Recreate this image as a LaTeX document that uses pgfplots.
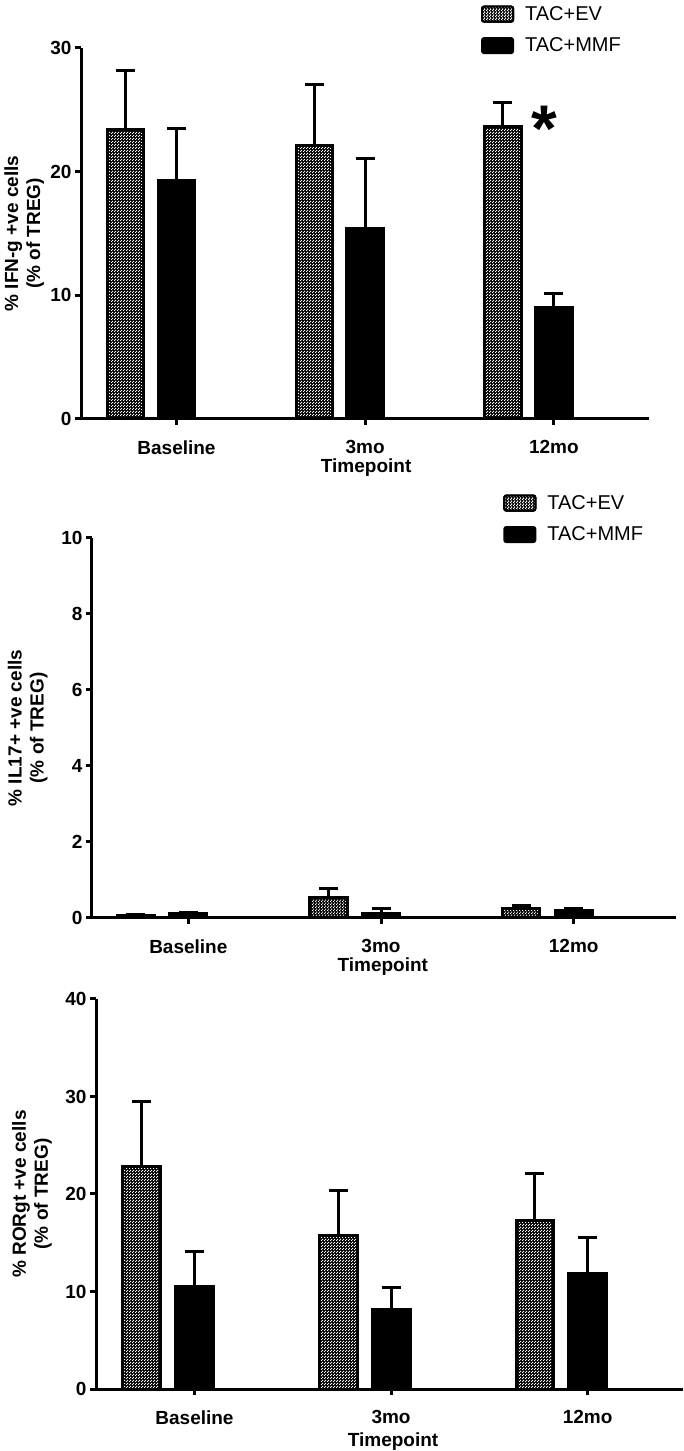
\documentclass[border=0pt]{standalone}
\usepackage{pgfplots}
\pgfplotsset{compat=1.18}
\usepackage{fontspec}
\setmainfont{Liberation Sans}
\usetikzlibrary{patterns}
\pgfdeclarepatternformonly{wdots}{\pgfpointorigin}{\pgfqpoint{3pt}{3pt}}{\pgfqpoint{3pt}{3pt}}{%
  \pgfpathrectangle{\pgfqpoint{0.1pt}{0.1pt}}{\pgfqpoint{1.3pt}{1.3pt}}%
  \pgfpathrectangle{\pgfqpoint{1.6pt}{1.6pt}}{\pgfqpoint{1.3pt}{1.3pt}}%
  \pgfusepath{fill}}
\pgfplotsset{
  gp/.style={
    scale only axis, axis lines*=left,
    axis line style={line width=3pt, black},
    tick align=outside, major tick length=6pt,
    every tick/.style={line width=3pt, black},
    ymin=0, xtick={0,1,2}, xticklabels={Baseline,3mo,12mo},
    /pgf/number format/assume math mode=true,
    xticklabel style={font=\fontsize{19}{21}\selectfont\bfseries, inner sep=0pt, yshift=-15.3pt},
    yticklabel style={font=\fontsize{19}{21}\selectfont\bfseries},
    ylabel style={font=\fontsize{19}{22}\selectfont\bfseries, align=center, anchor=center},
    xlabel style={font=\fontsize{19}{22}\selectfont\bfseries, anchor=base, inner sep=0pt},
    anchor=south west, clip=false,
    ybar, bar width=0.193, bar shift=0pt,
    legend style={draw=none, fill=none, anchor=north west, inner sep=0pt,
      font=\fontsize{20}{22}\selectfont, row sep=12pt,
      /tikz/every odd column/.append style={column sep=9pt}},
    legend cell align=left,
  },
  ebar/.style={error bars/y dir=plus, error bars/y explicit,
    error bars/error bar style={line width=3pt, black},
    error bars/error mark options={line width=3pt, mark size=9.5pt, black, rotate=90}},
  ev/.style={draw=black, line width=3pt, fill=black, postaction={pattern=wdots, pattern color=white}, ebar,
    /pgfplots/legend image code/.code={\draw[draw=black, line width=2pt, fill=black, postaction={pattern=wdots, pattern color=white}, rounded corners=2pt] (0pt,-7.5pt) rectangle (31pt,7.5pt);}},
  mmf/.style={draw=black, line width=3pt, fill=black, ebar,
    /pgfplots/legend image code/.code={\draw[draw=black, line width=2pt, fill=black, rounded corners=2pt] (0pt,-7.5pt) rectangle (31pt,7.5pt);}},
}
\begin{document}
\begin{tikzpicture}[x=1pt,y=1pt]
\path[use as bounding box] (0pt,0pt) rectangle (683pt,1451pt);
% Panel 1
\begin{axis}[gp, at={(81pt,1032pt)}, width=568pt, height=371pt,
  xmin=-0.506, xmax=2.504, ymax=30, ytick={0,10,20,30},
  ylabel={\% IFN-g +ve cells\\(\% of TREG)},
  ylabel style={at={(axis description cs:-0.1,0.5)}},
  xlabel={Timepoint}, xlabel style={at={(axis description cs:0.502,0)}, yshift=-54pt},
  legend style={at={(axis description cs:0.704,1.118)}}]
\addplot[ev] coordinates {(-0.27,23.43) +- (0,4.74) (0.73,22.08) +- (0,4.99) (1.73,23.65) +- (0,1.96)};
\addlegendentry{TAC+EV}
\addplot[mmf] coordinates {(0,19.31) +- (0,4.17) (1,15.43) +- (0,5.60) (2,9.02) +- (0,1.16)};
\addlegendentry{TAC+MMF}
\node[anchor=north, inner sep=0pt, font=\fontsize{66}{66}\selectfont\bfseries] at (axis cs:1.95,25.3) {*};
\end{axis}
% Panel 2
\begin{axis}[gp, at={(92pt,533pt)}, width=584pt, height=380pt,
  xmin=-0.5, xmax=2.531, ymax=10, ytick={0,2,4,6,8,10},
  ylabel={\% IL17+ +ve cells\\(\% of TREG)},
  ylabel style={at={(axis description cs:-0.11,0.5)}},
  xlabel={Timepoint}, xlabel style={at={(axis description cs:0.498,0)}, yshift=-54pt},
  legend style={at={(axis description cs:0.704,1.118)}}]
\addplot[ev] coordinates {(-0.273,0.07) +- (0,0.03) (0.727,0.55) +- (0,0.23) (1.727,0.245) +- (0,0.085)};
\addlegendentry{TAC+EV}
\addplot[mmf] coordinates {(0,0.12) +- (0,0.03) (1,0.13) +- (0,0.13) (2,0.19) +- (0,0.07)};
\addlegendentry{TAC+MMF}
\end{axis}
% Panel 3
\begin{axis}[gp, at={(96pt,62pt)}, width=587pt, height=390pt,
  xmin=-0.501, xmax=2.485, ymax=40, ytick={0,10,20,30,40},
  ylabel={\% RORgt +ve cells\\(\% of TREG)},
  ylabel style={at={(axis description cs:-0.109,0.5)}},
  xlabel={Timepoint}, xlabel style={at={(axis description cs:0.506,0)}, yshift=-57pt}]
\addplot[ev] coordinates {(-0.268,22.8) +- (0,6.67) (0.732,15.76) +- (0,4.65) (1.732,17.3) +- (0,4.82)};
\addplot[mmf] coordinates {(0,10.56) +- (0,3.59) (1,8.17) +- (0,2.26) (2,11.86) +- (0,3.70)};
\end{axis}
\end{tikzpicture}
\end{document}
